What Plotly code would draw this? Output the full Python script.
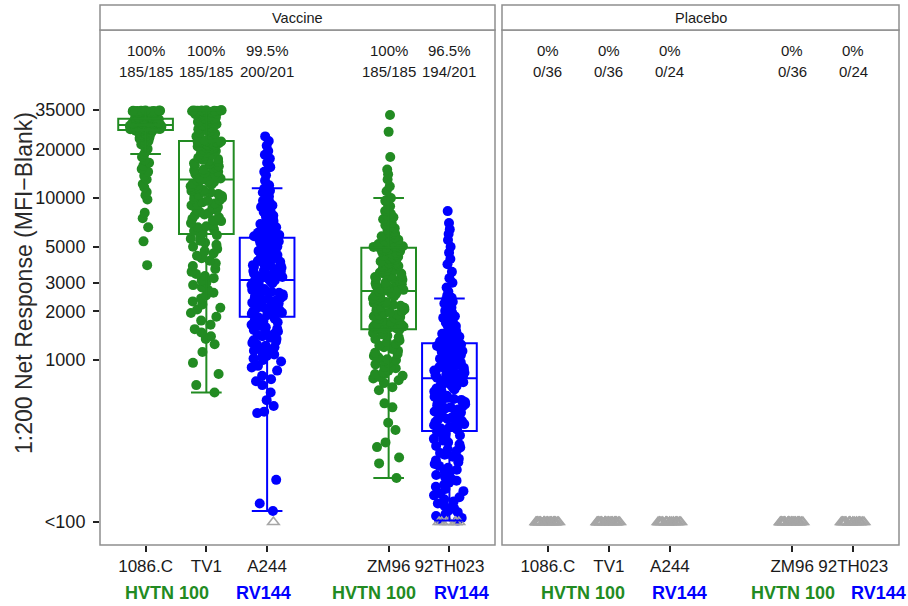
import plotly.graph_objects as go

# ---------------- data ----------------
categories = ["1086.C", "TV1", "A244", "ZM96", "92TH023"]
studies = ["HVTN 100", "HVTN 100", "RV144", "HVTN 100", "RV144"]

vals_1086C = [
    19400, 18600, 17900, 17100, 16500, 15800, 15100, 14500, 13700, 13000,
    12200, 11600, 10900, 10400, 9800, 8100, 7500, 6600, 5400, 3850,
    20100, 20600, 21000, 21400, 21700, 22100, 22400, 22600, 22900, 23200,
    23500, 23700, 24000, 24300, 24500, 24700, 24900, 25100, 25300, 25500,
    25600, 25800, 25900, 26000, 26100, 26250,
    26320, 26380, 26410, 26470, 26520, 26560, 26600, 26650, 26700, 26740,
    26790, 26830, 26880, 26920, 26960, 27000, 27050, 27090, 27130, 27170,
    27210, 27260, 27300, 27340, 27380, 27420, 27470, 27510, 27540, 27580,
    27620, 27660, 27700, 27740, 27780, 27810, 27850, 27880, 27920, 27960,
    28000, 28030, 28070, 28100, 28130, 28160, 28190,
    28250, 28300, 28360, 28420, 28480, 28540, 28600, 28650, 28710, 28770,
    28830, 28890, 28950, 29000, 29060, 29120, 29180, 29240, 29300, 29360,
    29410, 29470, 29530, 29590, 29650, 29700, 29760, 29820, 29880, 29930,
    29990, 30050, 30100, 30160, 30220, 30270, 30330, 30390, 30440, 30500,
    30550, 30600, 30650, 30700, 30740, 30780,
    30850, 30950, 31050, 31150, 31250, 31350, 31450, 31550, 31650, 31750,
    31850, 31950, 32050, 32150, 32250, 32350, 32450, 32550, 32650, 32750,
    32850, 32950, 33050, 33150, 33250, 33350, 33450, 33550, 33650, 33750,
    33850, 33950, 34050, 34100, 34150, 34200, 34250, 34300, 34350, 34400,
    34450, 34500, 34550, 34600, 34650, 34700,
]

vals_TV1 = [
    22700, 23100, 23600, 24000, 24500, 24900, 25300, 25800, 26200, 26600,
    27000, 27400, 27800, 28100, 28500, 28800, 29200, 29500, 29900, 30200,
    30500, 30800, 31100, 31400, 31700, 32000, 32300, 32600, 32900, 33100,
    33400, 33600, 33800, 34000, 34100, 34200, 34300, 34400, 34500, 34550,
    34600, 34650, 34700, 34750, 34800, 34850,
    13200, 13400, 13700, 13900, 14100, 14300, 14500, 14800, 15000, 15200,
    15500, 15700, 15900, 16200, 16400, 16700, 16900, 17200, 17400, 17700,
    17900, 18200, 18500, 18700, 19000, 19300, 19500, 19800, 20100, 20300,
    20600, 20800, 21000, 21200, 21400, 21600, 21750, 21900, 22000, 22100,
    22200, 22250, 22300, 22350, 22400, 22450,
    6100, 6250, 6400, 6600, 6700, 6850, 7000, 7200, 7300, 7450,
    7600, 7800, 7900, 8050, 8200, 8400, 8500, 8650, 8800, 9000,
    9100, 9250, 9400, 9600, 9700, 9850, 10000, 10200, 10300, 10450,
    10600, 10800, 10900, 11050, 11200, 11400, 11500, 11650, 11800, 12000,
    12100, 12250, 12400, 12550, 12700, 12800, 12900,
    5900, 5750, 5600, 5450, 5300, 5150, 5000, 4850, 4700, 4550,
    4400, 4250, 4100, 3950, 3800, 3650, 3500, 3400, 3300, 3200,
    3100, 3000, 2900, 2800, 2700, 2600, 2500, 2400, 2300, 2200,
    2100, 2050, 1950, 1850, 1750, 1650, 1550, 1480, 1400, 1350,
    1250, 1120, 960, 820, 700, 630,
]

vals_A244 = [
    24000, 22500, 21000, 19500, 18500, 17500, 16500, 15500, 14500, 13800,
    12800, 12000,
    11400, 11100, 10800, 10500, 10200, 9900, 9600, 9400, 9200, 9000,
    8800, 8600, 8400, 8200, 8000, 7800, 7650, 7500, 7350, 7200,
    7050, 6900, 6800, 6700, 6600, 6500, 6400, 6300, 6200, 6100,
    6050, 6000, 5950, 5900, 5850, 5800, 5750, 5720,
    5650, 5580, 5515, 5450, 5390, 5320, 5255, 5200, 5130, 5070,
    5010, 4950, 4890, 4830, 4780, 4715, 4660, 4600, 4550, 4495,
    4440, 4390, 4335, 4290, 4235, 4180, 4135, 4085, 4035, 3990,
    3940, 3890, 3850, 3800, 3755, 3710, 3670, 3625, 3580, 3540,
    3500, 3455, 3410, 3375, 3335, 3290, 3255, 3220, 3180, 3140,
    3100, 3060, 3020, 2980, 2940, 2900, 2860, 2820, 2780, 2740,
    2710, 2670, 2640, 2600, 2570, 2540, 2500, 2470, 2440, 2410,
    2380, 2350, 2320, 2290, 2260, 2230, 2210, 2180, 2150, 2130,
    2100, 2080, 2050, 2030, 2000, 1980, 1960, 1930, 1910, 1890,
    1830, 1800, 1770, 1740, 1710, 1680, 1650, 1620, 1590, 1560,
    1530, 1500, 1475, 1450, 1425, 1400, 1375, 1350, 1325, 1300,
    1275, 1250, 1225, 1200, 1180, 1160, 1140, 1120, 1100, 1080,
    1060, 1040, 1020, 1000, 980, 920, 900, 860, 800, 760,
    740, 700, 630, 565, 520, 480, 470, 182, 130, 117,
]

vals_ZM96 = [
    32500, 25600, 17900, 15000, 14000, 13000, 11800, 11000, 10000,
    9600, 9200, 8900, 8600, 8300, 8000, 7800, 7600, 7400, 7200,
    7000, 6800, 6650, 6500, 6350, 6200, 6100, 6000, 5900, 5800,
    5700, 5600, 5520, 5450, 5380, 5310, 5250, 5200, 5150, 5100,
    5070, 5040, 5010, 4990, 4970, 4955, 4940,
    4880, 4820, 4760, 4700, 4640, 4580, 4520, 4460, 4400, 4340,
    4280, 4220, 4170, 4110, 4060, 4000, 3950, 3900, 3850, 3800,
    3750, 3700, 3650, 3600, 3560, 3510, 3470, 3420, 3380, 3330,
    3290, 3250, 3210, 3170, 3130, 3090, 3050, 3010, 2970, 2930,
    2890, 2860, 2820, 2780, 2750, 2710,
    2670, 2630, 2600, 2570, 2530, 2500, 2470, 2440, 2400, 2370,
    2340, 2310, 2280, 2250, 2220, 2190, 2160, 2130, 2100, 2080,
    2050, 2020, 1990, 1970, 1940, 1910, 1890, 1860, 1840, 1810,
    1790, 1770, 1740, 1720, 1700, 1680, 1660, 1640, 1620, 1610,
    1600, 1590, 1580, 1575, 1570, 1560, 1555,
    1530, 1500, 1470, 1440, 1410, 1380, 1350, 1320, 1290, 1260,
    1230, 1200, 1170, 1140, 1110, 1090, 1060, 1040, 1010, 990,
    960, 940, 910, 890, 860, 840, 820, 800, 785, 770,
    750, 720, 680, 650, 540, 510, 410, 370, 310, 290,
    250, 230, 820, 900, 1000, 187,
]

vals_92TH023 = [
    8300, 7000, 6400, 6000, 5500, 5000, 4600, 4200, 3900, 3500,
    3200, 3000, 2800, 2650, 2500,
    2420, 2350, 2290, 2230, 2170, 2110, 2060, 2010, 1960, 1910,
    1860, 1820, 1780, 1740, 1700, 1660, 1620, 1590, 1560, 1530,
    1500, 1470, 1450, 1430, 1410, 1390, 1370, 1350, 1330, 1315,
    1300, 1290, 1280,
    1257, 1245, 1232, 1220, 1208, 1196, 1184, 1172, 1160, 1149,
    1137, 1126, 1115, 1104, 1093, 1082, 1071, 1060, 1050, 1040,
    1029, 1019, 1009, 999, 989, 979, 969, 960, 950, 941,
    931, 922, 913, 904, 895, 886, 877, 869, 860, 852,
    843, 835, 827, 818, 810, 802, 794, 786, 778,
    763, 752, 741, 730, 719, 708, 698, 688, 678, 668,
    658, 648, 638, 629, 620, 611, 602, 593, 584, 575,
    567, 558, 550, 542, 534, 526, 518, 510, 503, 495,
    488, 481, 474, 467, 460, 453, 446, 440, 433, 427,
    420, 414, 408, 402, 396, 390, 384, 378, 372,
    358, 350, 342, 334, 326, 318, 310, 302, 295, 288,
    281, 274, 267, 260, 253, 246, 240, 234, 228, 222,
    216, 210, 205, 200, 195, 190, 185, 180, 175, 170,
    165, 160, 155, 150, 146, 142, 138, 134, 130, 126,
    122, 118, 115, 112, 109, 106, 104, 102,
]

vaccine_values = [vals_1086C, vals_TV1, vals_A244, vals_ZM96, vals_92TH023]

# box statistics (log-scale ggplot boxes)
box_q1 = [26300, 6000, 1850, 1550, 365]
box_median = [28200, 13000, 3120, 2670, 771]
box_q3 = [30800, 22500, 5690, 4930, 1270]
box_lower = [18700, 630, 117, 187, 102]
box_upper = [34700, 34850, 11500, 10000, 2400]

# non-responders shown at the "<100" floor
floor_value = 100
vaccine_below = [0, 0, 1, 0, 7]
placebo_below = [36, 36, 24, 36, 24]

vaccine_pct = ["100%", "100%", "99.5%", "100%", "96.5%"]
vaccine_frac = ["185/185", "185/185", "200/201", "185/185", "194/201"]
placebo_pct = ["0%", "0%", "0%", "0%", "0%"]
placebo_frac = ["0/36", "0/36", "0/24", "0/36", "0/24"]

y_tickvals = [100, 1000, 2000, 3000, 5000, 10000, 20000, 35000]
y_ticktext = ["<100", "1000", "2000", "3000", "5000", "10000", "20000", "35000"]

# ---------------- styling / layout ----------------
slot = [1, 2, 3, 5, 6]
study_color = {"HVTN 100": "#228B22", "RV144": "#0000FF"}
GREY = "#A6A6A6"
FONT = "Liberation Sans, Arial, Helvetica, sans-serif"
TXT = "#1a1a1a"

OFF = 0  # page body margin removed by post_script
W, H = 908, 606
ML, MR, MT, MB = 100, 9, 30, 61
PW = W - ML - MR
PH = H - MT - MB

fig = go.Figure()

# jittered responder points (vaccine)
for i, vals in enumerate(vaccine_values):
    col = study_color[studies[i]]
    fig.add_trace(go.Box(
        y=vals, x0=slot[i], xaxis="x", yaxis="y",
        boxpoints="all", jitter=1.0, pointpos=0, width=0.52,
        line=dict(width=0, color="rgba(0,0,0,0)"), fillcolor="rgba(0,0,0,0)",
        marker=dict(color=col, size=10, opacity=1, line=dict(width=0)),
        hoveron="points", showlegend=False,
    ))

# non-responder triangles
for axis, counts in (("x", vaccine_below), ("x2", placebo_below)):
    for i, n in enumerate(counts):
        if n == 0:
            continue
        fig.add_trace(go.Box(
            y=[floor_value] * n, x0=slot[i], xaxis=axis, yaxis="y",
            boxpoints="all", jitter=1.0, pointpos=0, width=0.4,
            line=dict(width=0, color="rgba(0,0,0,0)"), fillcolor="rgba(0,0,0,0)",
            marker=dict(symbol="triangle-up-open", color=GREY, size=10,
                        line=dict(width=1.6, color=GREY)),
            hoveron="points", showlegend=False,
        ))

# boxes on top
for i in range(len(categories)):
    col = study_color[studies[i]]
    fig.add_trace(go.Box(
        x=[slot[i]], q1=[box_q1[i]], median=[box_median[i]], q3=[box_q3[i]],
        lowerfence=[box_lower[i]], upperfence=[box_upper[i]],
        xaxis="x", yaxis="y", boxpoints=False, width=0.9, whiskerwidth=0.56,
        line=dict(color=col, width=2), fillcolor="rgba(0,0,0,0)",
        showlegend=False,
    ))

gap = 7
d1 = 395 / PW
d2 = (395 + gap) / PW

xcommon = dict(range=[0.25, 6.75], tickmode="array", tickvals=slot, ticktext=categories,
               showgrid=False, zeroline=False, showline=False, ticks="outside",
               ticklen=6, tickwidth=2, tickcolor="#222",
               tickfont=dict(size=17, color=TXT, family=FONT), fixedrange=True)

fig.update_layout(
    width=W, height=H,
    margin=dict(l=ML, r=MR, t=MT, b=MB, pad=0),
    paper_bgcolor="white", plot_bgcolor="white",
    font=dict(family=FONT, color=TXT),
    boxmode="overlay",
    showlegend=False,
    xaxis=dict(domain=[0, d1], anchor="y", **xcommon),
    xaxis2=dict(domain=[d2, 1], anchor="y", **xcommon),
    yaxis=dict(type="log", range=[1.858, 5.037], tickmode="array",
               tickvals=y_tickvals, ticktext=y_ticktext, showgrid=False,
               zeroline=False, showline=False, ticks="outside", ticklen=6,
               tickwidth=2, tickcolor="#222", ticklabelstandoff=4,
               tickfont=dict(size=18, color=TXT, family=FONT)),
)

strip_h = 25 / PH
shapes = []
annotations = []
for ax, name in (("x", "Vaccine"), ("x2", "Placebo")):
    shapes.append(dict(type="rect", xref=f"{ax} domain", yref="y domain",
                       x0=0, x1=1, y0=0, y1=1, line=dict(color="#8f8f8f", width=1.5),
                       fillcolor="rgba(0,0,0,0)", layer="above"))
    shapes.append(dict(type="rect", xref=f"{ax} domain", yref="y domain",
                       x0=0, x1=1, y0=1, y1=1 + strip_h, line=dict(color="#8f8f8f", width=1.5),
                       fillcolor="white", layer="above"))
    annotations.append(dict(xref=f"{ax} domain", yref="y domain", x=0.5, y=1 + strip_h / 2,
                            text=name, showarrow=False, xanchor="center", yanchor="middle",
                            font=dict(size=14.5, color=TXT, family=FONT)))

def py(px):
    # screen pixel (reference) -> paper y
    return 1 - (px - OFF - MT) / PH

def px_x(px):
    return (px - OFF - ML) / PW

for ax, pcts, fracs in (("x", vaccine_pct, vaccine_frac), ("x2", placebo_pct, placebo_frac)):
    for i in range(len(categories)):
        annotations.append(dict(xref=ax, yref="paper", x=slot[i], y=py(51), text=pcts[i],
                                showarrow=False, xanchor="center", yanchor="middle",
                                font=dict(size=15, color=TXT, family=FONT)))
        annotations.append(dict(xref=ax, yref="paper", x=slot[i], y=py(71), text=fracs[i],
                                showarrow=False, xanchor="center", yanchor="middle",
                                font=dict(size=15, color=TXT, family=FONT)))

# study group labels under the axes
group_labels = [("x", 1.35, "HVTN 100"), ("x", 2.94, "RV144"), ("x", 4.76, "HVTN 100"), ("x", 6.2, "RV144"),
                ("x2", 1.58, "HVTN 100"), ("x2", 3.16, "RV144"), ("x2", 5.01, "HVTN 100"), ("x2", 6.42, "RV144")]
for ax, xpos, lab in group_labels:
    annotations.append(dict(xref=ax, yref="paper", x=xpos, y=py(593), text=f"<b>{lab}</b>",
                            showarrow=False, xanchor="center", yanchor="middle",
                            font=dict(size=18, color=study_color[lab], family=FONT)))

annotations.append(dict(xref="paper", yref="paper", x=px_x(24), y=py(283),
                        text="1:200 Net Response (MFI\u2212Blank)", textangle=-90,
                        showarrow=False, xanchor="center", yanchor="middle",
                        font=dict(size=23, color="#2a2a2a", family=FONT)))

fig.update_layout(shapes=shapes, annotations=annotations)
fig.write_html("out.html",
               config={"displayModeBar": False},
               post_script="document.body.style.margin='0';document.body.style.overflow='hidden';")
